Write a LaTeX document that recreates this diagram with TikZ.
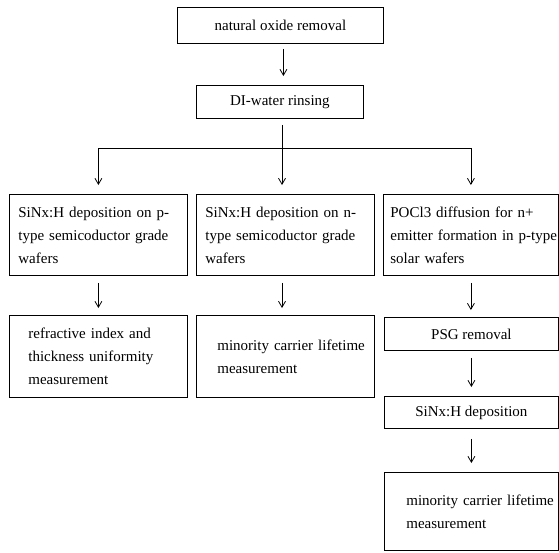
\documentclass[tikz,border=0pt]{standalone}
\usepackage{fontspec}
\setmainfont{Liberation Serif}
\usetikzlibrary{arrows.meta}
\begin{document}
\begin{tikzpicture}[x=1pt,y=-1pt,
  box/.style={draw, line width=0.8pt, inner sep=0pt, anchor=north west,
    font=\fontsize{15}{23}\selectfont},
  cbox/.style={box, align=center},
  lbox/.style={box, align=left},
  arr/.style={line width=0.8pt, -{Straight Barb[length=6pt,width=7pt]}},
  ln/.style={line width=0.8pt}]
\useasboundingbox (0,0) rectangle (559,552);
% top
\node[cbox, minimum width=206pt, minimum height=36pt] (n1) at (177,7) {natural oxide removal};
\node[cbox, minimum width=167pt, minimum height=33pt] (n2) at (196,85) {DI-water rinsing};
% second row
\node[lbox, inner xsep=9pt, text width=160pt, minimum height=81pt] (a3) at (9,194)
  {\mbox{SiNx:H deposition on p-}\\\mbox{type semicoductor grade}\\\mbox{wafers}};
\node[lbox, inner xsep=9pt, text width=160pt, minimum height=81pt] (b3) at (196,194)
  {\mbox{SiNx:H deposition on n-}\\\mbox{type semicoductor grade}\\\mbox{wafers}};
\node[lbox, inner xsep=7pt, text width=161pt, minimum height=81pt] (c3) at (383,194)
  {\mbox{POCl3 diffusion for n+}\\\mbox{emitter formation in p-type}\\\mbox{solar wafers}};
% third row
\node[lbox, inner xsep=19pt, text width=140pt, minimum height=82pt] (a4) at (9,315)
  {\mbox{refractive index and}\\\mbox{thickness uniformity}\\\mbox{measurement}};
\node[lbox, inner xsep=21pt, text width=136pt, minimum height=82pt] (b4) at (196,315)
  {\mbox{minority carrier lifetime}\\\mbox{measurement}};
\node[cbox, minimum width=174pt, minimum height=33pt] (p4) at (384,317) {PSG removal};
\node[cbox, minimum width=174pt, minimum height=32pt] (s5) at (384,396) {SiNx:H deposition};
\node[lbox, inner xsep=22pt, text width=130pt, minimum height=78pt] (m6) at (384,472)
  {\mbox{minority carrier lifetime}\\\mbox{measurement}};
% connectors
\coordinate (j) at (282,148);
\draw[arr, shorten <=5pt, shorten >=9pt] ([xshift=3pt]n1.south) -- ([xshift=3pt]n1.south |- n2.north);
\draw[ln, shorten <=6pt] (j |- n2.south) -- (j);
\draw[ln] (a3.north |- j) -- (c3.north |- j);
\draw[arr, shorten >=9pt] (a3.north |- j) -- (a3.north);
\draw[arr, shorten >=9pt] (j) -- (j |- b3.north);
\draw[arr, shorten >=9pt] (c3.north |- j) -- (c3.north);
\draw[arr, shorten <=7pt, shorten >=7pt] (a3.south) -- (a4.north);
\draw[arr, shorten <=7pt, shorten >=7pt] (j |- b3.south) -- (j |- b4.north);
\draw[arr, shorten <=7pt, shorten >=7pt] (c3.south) -- (c3.south |- p4.north);
\draw[arr, shorten <=7pt, shorten >=9pt] (p4.south) -- (s5.north);
\draw[arr, shorten <=10pt, shorten >=9pt] (s5.south) -- (m6.north);
\end{tikzpicture}
\end{document}
